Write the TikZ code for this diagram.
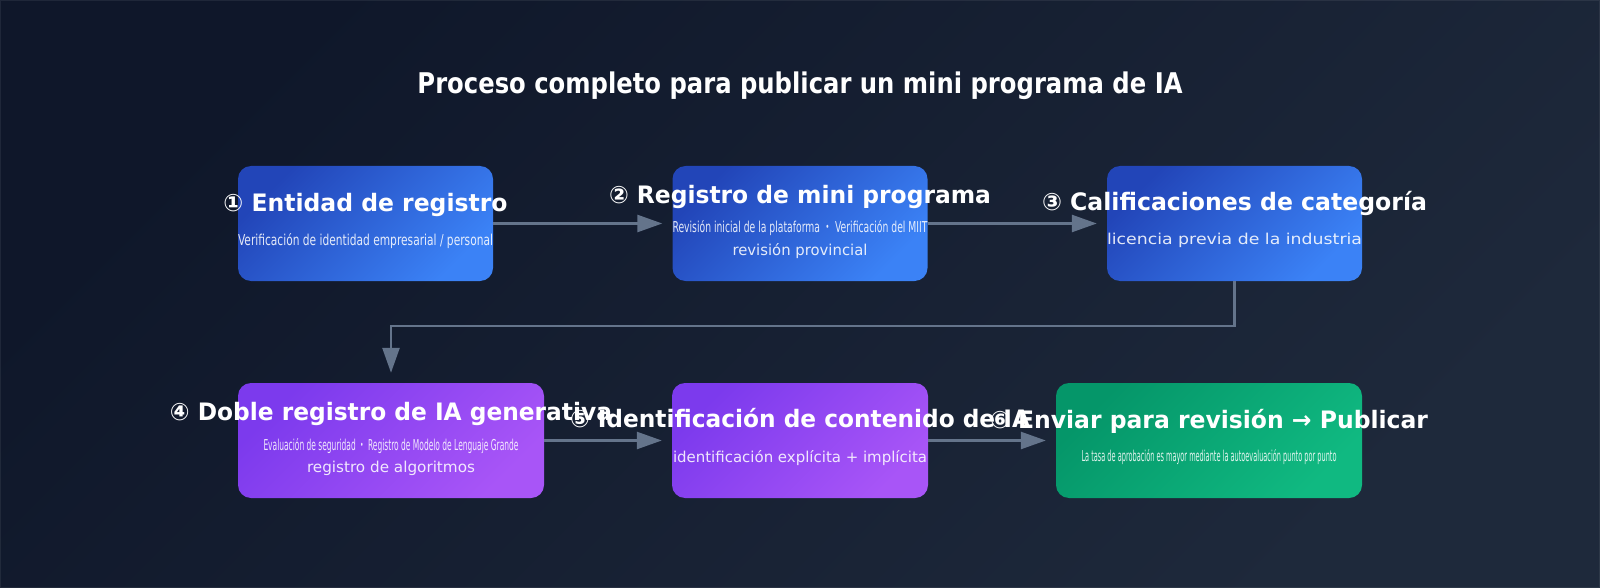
\documentclass[tikz,border=0pt]{standalone}
\usepackage{fontspec}
\usepackage{graphicx}
\setmainfont{DejaVu Sans}
\newfontfamily\cjkfont{Noto Sans CJK JP}
\usetikzlibrary{arrows.meta}
\definecolor{bgA}{HTML}{0F172A}
\definecolor{bgB}{HTML}{1E293B}
\definecolor{blA}{HTML}{2245B8}
\definecolor{blB}{HTML}{3B82F6}
\definecolor{puA}{HTML}{7C3AED}
\definecolor{puB}{HTML}{A855F7}
\definecolor{grA}{HTML}{059669}
\definecolor{grB}{HTML}{10B981}
\definecolor{arrowc}{HTML}{64748B}
\newcommand\fitw[2]{\resizebox{#1}{\height}{#2}}
\newcommand\mdot{{\cjkfont ・}}
\begin{document}
\begin{tikzpicture}[x=1pt,y=-1pt,
  box/.style={rounded corners=13pt, minimum height=115pt, inner sep=0pt, draw=none},
  bluebox/.style={box, minimum width=255pt, top color=blA, bottom color=blB, shading angle=45},
  purplebox/.style={box, top color=puA, bottom color=puB, shading angle=45},
  greenbox/.style={box, minimum width=306pt, top color=grA, bottom color=grB, shading angle=45},
  ttl/.style={anchor=base, inner sep=0pt, text=white, font=\fontsize{24}{27}\selectfont\bfseries},
  sub/.style={anchor=base, inner sep=0pt, text=white, text opacity=0.87, font=\fontsize{15}{18}\selectfont},
  maintitle/.style={anchor=base, inner sep=0pt, text=white, font=\fontsize{28.5}{32}\selectfont\bfseries},
  flow/.style={draw=arrowc, line width=2.5pt, -{Triangle[length=25pt,width=17pt]}, shorten >=10pt}
]
\useasboundingbox (0,0) rectangle (1600,588);
\shade[top color=bgA, bottom color=bgB, shading angle=45] (0,0) rectangle (1600,588);
\draw[white, opacity=0.07, line width=1pt] (0.5,0.5) rectangle (1599.5,587.5);

\node[maintitle] (title) at (800,94) {\fitw{765pt}{Proceso completo para publicar un mini programa de IA}};

% boxes
\node[bluebox] (b1) at (365.5,223.5) {};
\node[bluebox] (b2) at (800,223.5) {};
\node[bluebox] (b3) at (1234.5,223.5) {};
\node[purplebox, minimum width=306pt] (b4) at (391,440.5) {};
\node[purplebox, minimum width=256pt] (b5) at (800,440.5) {};
\node[greenbox] (b6) at (1209,440.5) {};

% connectors
\draw[flow] (b1.east) -- (b2.west);
\draw[flow] (b2.east) -- (b3.west);
\draw[flow] (b3.south) -- ++(0,45) -| (b4.north);
\draw[flow] (b4.east) -- (b5.west);
\draw[flow] (b5.east) -- (b6.west);

% texts box 1
\node[ttl] (t1) at ([yshift=12pt]b1.center) {\fitw{284pt}{① Entidad de registro}};
\node[sub] (s1) at ([yshift=-21.5pt]b1.center) {\fitw{255pt}{Verificación de identidad empresarial / personal}};
% box 2
\node[ttl] (t2) at ([yshift=20pt]b2.center) {\fitw{382pt}{② Registro de mini programa}};
\node[sub] (s2a) at ([yshift=-9.5pt]b2.center) {\fitw{255pt}{Revisión inicial de la plataforma \mdot{} Verificación del MIIT}};
\node[sub] (s2b) at ([yshift=-32.3pt]b2.center) {\fitw{135pt}{revisión provincial}};
% box 3
\node[ttl] (t3) at ([yshift=12.5pt]b3.center) {\fitw{385pt}{③ Calificaciones de categoría}};
\node[sub] (s3) at ([yshift=-21pt]b3.center) {\fitw{255pt}{licencia previa de la industria}};
% box 4
\node[ttl] (t4) at ([yshift=20pt]b4.center) {\fitw{442pt}{④ Doble registro de IA generativa}};
\node[sub] (s4a) at ([yshift=-9.5pt]b4.center) {\fitw{255pt}{Evaluación de seguridad \mdot{} Registro de Modelo de Lenguaje Grande}};
\node[sub] (s4b) at ([yshift=-32.3pt]b4.center) {\fitw{168pt}{registro de algoritmos}};
% box 5
\node[ttl] (t5) at ([yshift=13pt]b5.center) {\fitw{460pt}{⑤ Identificación de contenido de IA}};
\node[sub] (s5) at ([yshift=-22pt]b5.center) {\fitw{254pt}{identificación explícita + implícita}};
% box 6
\node[ttl] (t6) at ([yshift=12.5pt]b6.center) {\fitw{438pt}{⑥ Enviar para revisión → Publicar}};
\node[sub] (s6) at ([yshift=-21pt]b6.center) {\fitw{255pt}{La tasa de aprobación es mayor mediante la autoevaluación punto por punto}};
\end{tikzpicture}
\end{document}
